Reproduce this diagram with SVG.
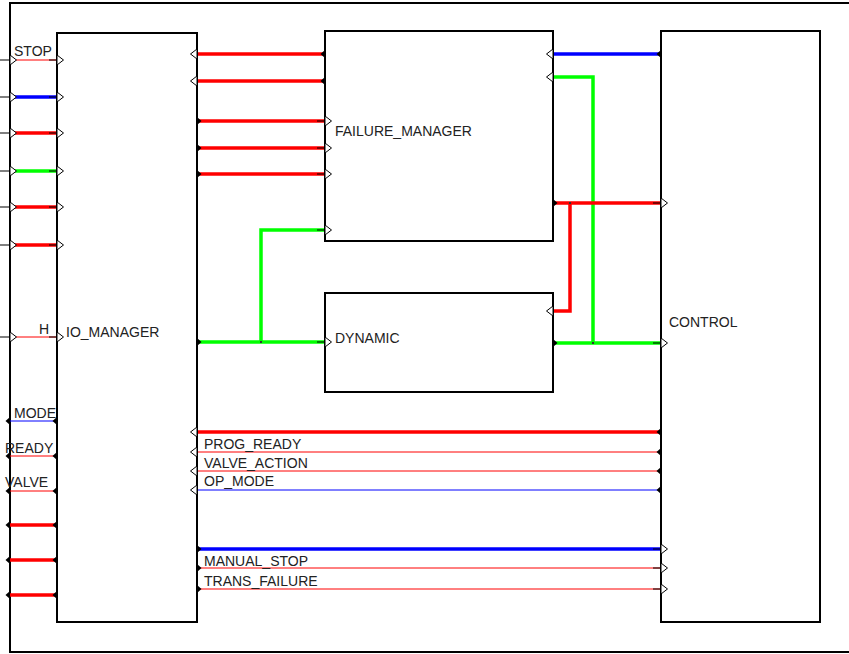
<svg xmlns="http://www.w3.org/2000/svg" xmlns:xlink="http://www.w3.org/1999/xlink" width="849" height="654" viewBox="0 0 849 654">
<style>
.box{fill:#fff;stroke:#000;stroke-width:2}
.frame{fill:none;stroke:#000;stroke-width:2}
.lbl{font-family:"Liberation Sans",Arial,sans-serif;font-size:14px;fill:#222}
.w{fill:none;stroke-linecap:butt;stroke-linejoin:miter}
.rt{stroke:#ff0000;stroke-width:3.5}
.rn{stroke:#ff0000;stroke-width:1}
.bt{stroke:#0000ff;stroke-width:3.5}
.bn{stroke:#0000ff;stroke-width:1}
.gt{stroke:#00ff00;stroke-width:3.5}
.stub{stroke:#000;stroke-width:1.2}
.pin{fill:#fff;stroke:#000;stroke-width:1}
.pout{fill:#000;stroke:none}
.dot{fill:#333}
</style>
<defs>
<polygon id="inR" class="pin" points="0,-5 6.5,0 0,5"/>
<polygon id="inL" class="pin" points="0,-5 -6.5,0 0,5"/>
<polygon id="outR" class="pout" points="0,-4 4.5,0 0,4"/>
<polygon id="outL" class="pout" points="0,-4 -4.5,0 0,4"/>
</defs>
<rect width="849" height="654" fill="#fff"/>
<g id="frame">
<rect class="frame" x="10" y="3" width="845" height="649"/>
</g>
<g id="connectors">
<!-- frame inputs to IO_MANAGER -->
<path class="w rn" d="M10 60H57"/>
<path class="w bt" d="M10 97H57"/>
<path class="w rt" d="M10 133H57"/>
<path class="w gt" d="M10 171H57"/>
<path class="w rt" d="M10 207H57"/>
<path class="w rt" d="M10 245H57"/>
<path class="w rn" d="M10 337H57"/>
<!-- IO_MANAGER outputs to frame -->
<path class="w bn" d="M10 421H57"/>
<path class="w rn" d="M10 456H57"/>
<path class="w rn" d="M10 491H57"/>
<path class="w rt" d="M10 525H57"/>
<path class="w rt" d="M10 560H57"/>
<path class="w rt" d="M10 595H57"/>
<!-- IO_MANAGER <-> FAILURE_MANAGER -->
<path class="w rt" d="M197 54H325"/>
<path class="w rt" d="M197 81H325"/>
<path class="w rt" d="M197 121H325"/>
<path class="w rt" d="M197 148H325"/>
<path class="w rt" d="M197 174H325"/>
<path class="w gt" d="M197 342H325"/>
<path class="w gt" d="M261 342V230H325"/>
<!-- CONTROL / FAILURE_MANAGER / DYNAMIC -->
<path class="w bt" d="M553 54H661"/>
<path class="w gt" d="M553 77H593V343"/>
<path class="w gt" d="M553 343H661"/>
<path class="w rt" d="M553 203H661"/>
<path class="w rt" d="M570 203V311H553"/>
<!-- CONTROL <-> IO_MANAGER -->
<path class="w rt" d="M197 432H661"/>
<path class="w rn" d="M197 452H661"/>
<path class="w rn" d="M197 471H661"/>
<path class="w bn" d="M197 490H661"/>
<path class="w bt" d="M197 549H661"/>
<path class="w rn" d="M197 568H661"/>
<path class="w rn" d="M197 589H661"/>
<!-- black stubs at input ports -->
<path class="stub" d="M0 60H10M0 97H10M0 133H10M0 171H10M0 207H10M0 245H10M0 337H10"/>
<path class="stub" d="M49 60H57M49 97H57M49 133H57M49 171H57M49 207H57M49 245H57M49 337H57"/>
<path class="stub" d="M317 121H325M317 148H325M317 174H325M317 230H325M317 342H325"/>
<path class="stub" d="M653 203H661M653 343H661M653 549H661M653 568H661M653 589H661"/>
<rect class="dot" x="260" y="341" width="2" height="2"/>
<rect class="dot" x="592" y="342" width="2" height="2"/>
<rect class="dot" x="569" y="202" width="2" height="2"/>
<!-- connector labels -->
<text class="lbl" x="14" y="56">STOP</text>
<text class="lbl" x="39" y="334">H</text>
<text class="lbl" x="14" y="418">MODE</text>
<text class="lbl" x="5" y="453">READY</text>
<text class="lbl" x="5" y="487">VALVE</text>
<text class="lbl" x="204" y="449">PROG_READY</text>
<text class="lbl" x="204" y="468">VALVE_ACTION</text>
<text class="lbl" x="204" y="486">OP_MODE</text>
<text class="lbl" x="204" y="566">MANUAL_STOP</text>
<text class="lbl" x="204" y="586">TRANS_FAILURE</text>
</g>
<g id="io_manager">
<rect class="box" x="57" y="33" width="140" height="589"/>
<text class="lbl" x="66" y="337">IO_MANAGER</text>
</g>
<g id="failure_manager">
<rect class="box" x="325" y="31" width="228" height="210"/>
<text class="lbl" x="335" y="136">FAILURE_MANAGER</text>
</g>
<g id="dynamic">
<rect class="box" x="325" y="293" width="228" height="99"/>
<text class="lbl" x="335" y="343">DYNAMIC</text>
</g>
<g id="control">
<rect class="box" x="661" y="31" width="159" height="591"/>
<text class="lbl" x="669" y="327">CONTROL</text>
</g>
<g id="ports">
<!-- frame ports -->
<use xlink:href="#inR" x="10" y="60"/><use xlink:href="#inR" x="10" y="97"/><use xlink:href="#inR" x="10" y="133"/>
<use xlink:href="#inR" x="10" y="171"/><use xlink:href="#inR" x="10" y="207"/><use xlink:href="#inR" x="10" y="245"/>
<use xlink:href="#inR" x="10" y="337"/>
<use xlink:href="#outL" x="10" y="421"/><use xlink:href="#outL" x="10" y="456"/><use xlink:href="#outL" x="10" y="491"/>
<use xlink:href="#outL" x="10" y="525"/><use xlink:href="#outL" x="10" y="560"/><use xlink:href="#outL" x="10" y="595"/>
<!-- IO_MANAGER left -->
<use xlink:href="#inR" x="57" y="60"/><use xlink:href="#inR" x="57" y="97"/><use xlink:href="#inR" x="57" y="133"/>
<use xlink:href="#inR" x="57" y="171"/><use xlink:href="#inR" x="57" y="207"/><use xlink:href="#inR" x="57" y="245"/>
<use xlink:href="#inR" x="57" y="337"/>
<use xlink:href="#outL" x="57" y="421"/><use xlink:href="#outL" x="57" y="456"/><use xlink:href="#outL" x="57" y="491"/>
<use xlink:href="#outL" x="57" y="525"/><use xlink:href="#outL" x="57" y="560"/><use xlink:href="#outL" x="57" y="595"/>
<!-- IO_MANAGER right -->
<use xlink:href="#inL" x="197" y="54"/><use xlink:href="#inL" x="197" y="81"/>
<use xlink:href="#outR" x="197" y="121"/><use xlink:href="#outR" x="197" y="148"/><use xlink:href="#outR" x="197" y="174"/>
<use xlink:href="#outR" x="197" y="342"/>
<use xlink:href="#inL" x="197" y="432"/><use xlink:href="#inL" x="197" y="452"/><use xlink:href="#inL" x="197" y="471"/><use xlink:href="#inL" x="197" y="490"/>
<use xlink:href="#outR" x="197" y="549"/><use xlink:href="#outR" x="197" y="568"/><use xlink:href="#outR" x="197" y="589"/>
<!-- FAILURE_MANAGER -->
<use xlink:href="#outL" x="325" y="54"/><use xlink:href="#outL" x="325" y="81"/>
<use xlink:href="#inR" x="325" y="121"/><use xlink:href="#inR" x="325" y="148"/><use xlink:href="#inR" x="325" y="174"/>
<use xlink:href="#inR" x="325" y="230"/>
<use xlink:href="#inL" x="553" y="54"/><use xlink:href="#inL" x="553" y="77"/>
<use xlink:href="#outR" x="553" y="203"/>
<!-- DYNAMIC -->
<use xlink:href="#inR" x="325" y="342"/>
<use xlink:href="#inL" x="553" y="311"/>
<use xlink:href="#outR" x="553" y="343"/>
<!-- CONTROL -->
<use xlink:href="#outL" x="661" y="54"/>
<use xlink:href="#inR" x="661" y="203"/><use xlink:href="#inR" x="661" y="343"/>
<use xlink:href="#outL" x="661" y="432"/><use xlink:href="#outL" x="661" y="452"/><use xlink:href="#outL" x="661" y="471"/><use xlink:href="#outL" x="661" y="490"/>
<use xlink:href="#inR" x="661" y="549"/><use xlink:href="#inR" x="661" y="568"/><use xlink:href="#inR" x="661" y="589"/>
</g>
</svg>
